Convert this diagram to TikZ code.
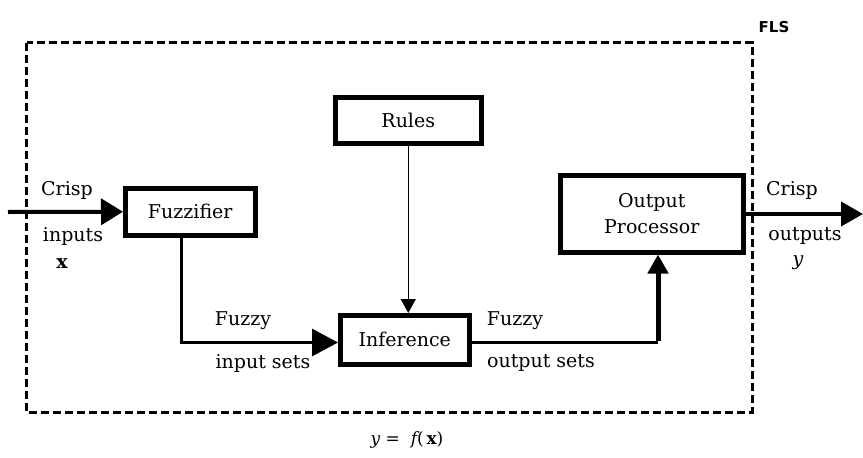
\documentclass[tikz,border=0pt]{standalone}
\usepackage{fontspec}
\setmainfont{DejaVu Serif}
\newfontfamily\flsfont{DejaVu Sans}
\usetikzlibrary{arrows.meta,shadows}

\begin{document}
\begin{tikzpicture}[x=1pt,y=-1pt,
  every node/.style={font=\fontsize{19}{22}\selectfont},
  block/.style={draw, line width=5pt, fill=white, inner sep=0pt, align=center,
    drop shadow={shadow xshift=1.5pt, shadow yshift=-1.5pt, fill=black, opacity=1}},
  lbl/.style={inner sep=0pt},
  frame/.style={line width=3pt, dash pattern=on 8pt off 4pt}
]
\useasboundingbox (0,0) rectangle (863,458);

% system boundary
\draw[frame] (26.5,42.5) rectangle (752,412);
\node[lbl, font=\flsfont\bfseries\fontsize{15}{17}\selectfont] (fls) at (774,27) {FLS};

% blocks
\node[block, minimum width=129.5pt, minimum height=46.5pt] (fuzz) at (190.25,211.75) {Fuzzifier};
\node[block, minimum width=145.5pt, minimum height=45.5pt] (rules) at (408.25,120.25) {Rules};
\node[block, minimum width=128.5pt, minimum height=48.5pt] (inf) at (404.75,339.75) {Inference};
\node[block, minimum width=182.5pt, minimum height=76.5pt] (outp) at (651.75,213.75)
  {Output\\[4pt]Processor};

% connector end points
\coordinate (in) at (8,212);
\coordinate (out) at (863,214);
\coordinate (fx) at (181,0);
\coordinate (ox) at (658,0);
\coordinate (lvl) at (0,342.5);

% connectors
\draw[line width=4pt, -{Triangle[length=22pt,width=26pt]}] (in) -- (fuzz.west);
\draw[line width=3pt, -{Triangle[length=26pt,width=27pt]}] (fuzz.south -| fx) |- (inf.west |- lvl);
\draw[line width=1.5pt, -{Triangle[length=14pt,width=15pt]}] (rules.south) -- (inf.north -| rules.south);
\draw[line width=3pt] (inf.east |- lvl) -- (ox |- lvl);
\draw[line width=5pt, -{Triangle[length=19pt,width=20pt]}] ([yshift=1.5pt]ox |- lvl) -- (outp.south -| ox);
\draw[line width=4pt, -{Triangle[length=22pt,width=24pt]}] (outp.east |- out) -- (out);

% labels
\node[lbl] (ci) at (67,190) {Crisp};
\node[lbl] (ii) at (73,236) {inputs};
\node[lbl] (xi) at (62,264) {\bfseries x};
\node[lbl] (fz1) at (243,321) {Fuzzy};
\node[lbl] (is) at (263,363) {input sets};
\node[lbl] (fz2) at (515,321) {Fuzzy};
\node[lbl] (os) at (541,363) {output sets};
\node[lbl] (co) at (792,190) {Crisp};
\node[lbl] (oo) at (805,236) {outputs};
\node[lbl] (yo) at (798,263) {\itshape y};
\node[lbl, font=\fontsize{17}{20}\selectfont] (fx2) at (407,440) {{\itshape y} =\ \ {\itshape f}(\,{\bfseries x})};
\end{tikzpicture}
\end{document}
